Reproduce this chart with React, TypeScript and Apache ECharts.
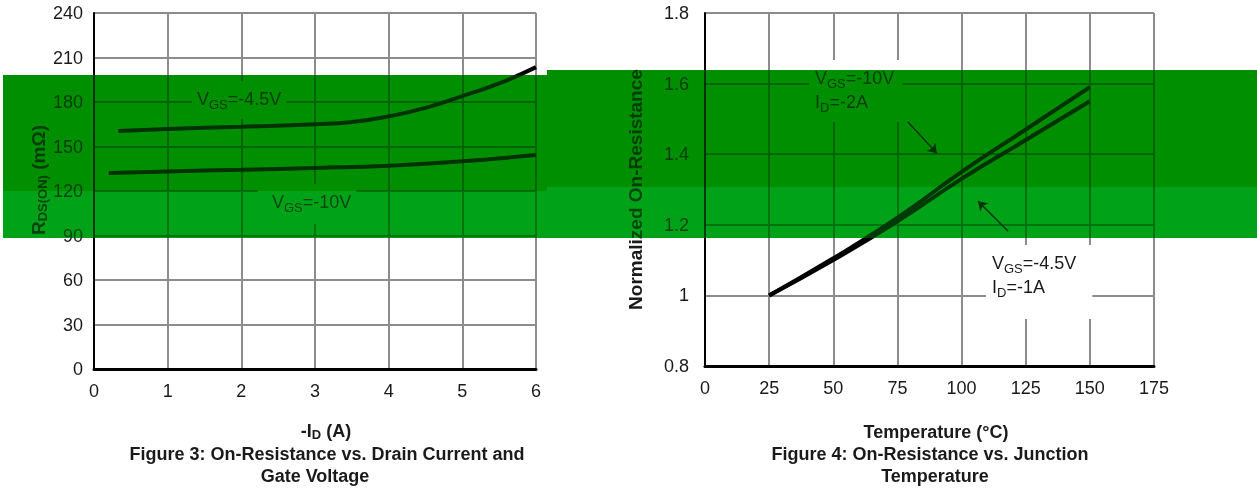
import React, { useEffect, useRef } from "react";
import * as echarts from "echarts";

// ---- Figure 3 data: RDS(ON) (mΩ) vs -ID (A)
const idTicks = [0, 1, 2, 3, 4, 5, 6];
const rdsTicks = [0, 30, 60, 90, 120, 150, 180, 210, 240];
const id45 = [0.33, 1, 2, 3, 3.5, 4, 4.5, 5, 5.5, 6];
const rds45 = [160.4, 161.8, 163.3, 165, 166.5, 170.3, 176, 184, 192.5, 203.5];
const id10 = [0.2, 1, 2, 3, 4, 5, 6];
const rds10 = [132.2, 133.2, 134.3, 135.5, 137, 140, 144.3];

// ---- Figure 4 data: normalized on-resistance vs temperature
const tempTicks = [0, 25, 50, 75, 100, 125, 150, 175];
const normTicks = [0.8, 1, 1.2, 1.4, 1.6, 1.8];
const tempC = [25, 50, 75, 100, 125, 150];
const norm10 = [1.0, 1.105, 1.22, 1.35, 1.47, 1.59];
const norm45 = [1.0, 1.1, 1.21, 1.33, 1.44, 1.55];
// annotation arrows [fromT, fromR, toT, toR]
const arrow10 = [79.1, 1.491, 90.4, 1.403];
const arrow45 = [118.1, 1.182, 106.4, 1.267];

const FONT = '"Liberation Sans", Arial, sans-serif';
const TXT = "#1a1a1a";
const GRID = "#8c8c8c";

const pairs = (xs: number[], ys: number[]) => xs.map((x, i) => [x, ys[i]]);

const richBase = (size: number, sub: number, bold: boolean, lh: number) => ({
  n: { fontFamily: FONT, fontSize: size, fontWeight: bold ? "bold" : "normal", color: TXT, fill: TXT, lineHeight: lh },
  s: { fontFamily: FONT, fontSize: sub, fontWeight: bold ? "bold" : "normal", color: TXT, fill: TXT, lineHeight: 14, verticalAlign: "bottom" },
});

const annot = (x: number, y: number, text: string, padding: number[]) => ({
  type: "text",
  x,
  y,
  z: 50,
  style: {
    text,
    rich: richBase(18, 13, false, 24),
    backgroundColor: "#ffffff",
    padding,
    fill: TXT,
  },
});

const caption = (x: number, y: number, text: string) => ({
  type: "text",
  x,
  y,
  z: 50,
  style: {
    text,
    fontFamily: FONT,
    fontSize: 18,
    fontWeight: "bold",
    fill: TXT,
    align: "center",
    textAlign: "center",
    verticalAlign: "middle",
    textVerticalAlign: "middle",
  },
});

const valueAxisBase = {
  type: "value",
  axisTick: { show: false },
  splitLine: { show: true, lineStyle: { color: GRID, width: 2 } },
  axisLabel: { fontFamily: FONT, fontSize: 18, color: TXT },
};

export default function App() {
  const ref = useRef<HTMLDivElement>(null);
  useEffect(() => {
    document.body.style.margin = "0";
    if (!ref.current) return;
    const chart = echarts.init(ref.current, undefined, { renderer: "svg" });
    const option: any = {
      animation: false,
      backgroundColor: "#ffffff",
      grid: [
        { left: 94, top: 13, width: 442, height: 356 },
        { left: 705, top: 13, width: 449, height: 353 },
      ],
      xAxis: [
        {
          ...valueAxisBase,
          gridIndex: 0,
          min: idTicks[0],
          max: idTicks[idTicks.length - 1],
          interval: idTicks[1] - idTicks[0],
          axisLine: { show: true, onZero: false, lineStyle: { color: "#000", width: 3 } },
          axisLabel: { ...valueAxisBase.axisLabel, margin: 13 },
          name: "{n|-I}{s|D}{n| (A)}",
          nameLocation: "middle",
          nameGap: 52,
          nameTextStyle: { padding: [0, 0, 0, 22], rich: richBase(18, 13, true, 20) },
        },
        {
          ...valueAxisBase,
          gridIndex: 1,
          min: tempTicks[0],
          max: tempTicks[tempTicks.length - 1],
          interval: tempTicks[1] - tempTicks[0],
          axisLine: { show: true, onZero: false, lineStyle: { color: "#000", width: 3 } },
          axisLabel: { ...valueAxisBase.axisLabel, margin: 13 },
          name: "Temperature (°C)",
          nameLocation: "middle",
          nameGap: 57,
          nameTextStyle: { fontFamily: FONT, fontSize: 18, fontWeight: "bold", color: TXT, padding: [0, 0, 0, 13] },
        },
      ],
      yAxis: [
        {
          ...valueAxisBase,
          gridIndex: 0,
          min: rdsTicks[0],
          max: rdsTicks[rdsTicks.length - 1],
          interval: rdsTicks[1] - rdsTicks[0],
          axisLine: { show: true, onZero: false, lineStyle: { color: "#000", width: 2 } },
          axisLabel: { ...valueAxisBase.axisLabel, margin: 11 },
          name: "{n|R}{s|DS(ON)}{n| (mΩ)}",
          nameLocation: "middle",
          nameRotate: 90,
          nameGap: 42,
          nameTextStyle: { padding: [0, 0, 0, 22], rich: richBase(19, 13, true, 22) },
        },
        {
          ...valueAxisBase,
          gridIndex: 1,
          min: normTicks[0],
          max: normTicks[normTicks.length - 1],
          interval: 0.2,
          axisLine: { show: true, onZero: false, lineStyle: { color: "#000", width: 2 } },
          axisLabel: { ...valueAxisBase.axisLabel, margin: 16 },
          name: "Normalized On-Resistance",
          nameLocation: "middle",
          nameRotate: 90,
          nameGap: 60,
          nameTextStyle: { fontFamily: FONT, fontSize: 19, fontWeight: "bold", color: TXT },
        },
      ],
      series: [
        {
          name: "VGS=-4.5V",
          type: "line",
          xAxisIndex: 0,
          yAxisIndex: 0,
          smooth: true,
          showSymbol: false,
          lineStyle: { color: "#000", width: 4 },
          data: pairs(id45, rds45),
        },
        {
          name: "VGS=-10V",
          type: "line",
          xAxisIndex: 0,
          yAxisIndex: 0,
          smooth: true,
          showSymbol: false,
          lineStyle: { color: "#000", width: 4 },
          data: pairs(id10, rds10),
        },
        {
          name: "VGS=-10V, ID=-2A",
          type: "line",
          xAxisIndex: 1,
          yAxisIndex: 1,
          smooth: true,
          showSymbol: false,
          lineStyle: { color: "#000", width: 4 },
          data: pairs(tempC, norm10),
          markLine: {
            silent: true,
            symbol: ["none", "arrow"],
            symbolSize: 9,
            label: { show: false },
            lineStyle: { color: "#000", width: 1.5, type: "solid" },
            data: [
              [{ coord: [arrow10[0], arrow10[1]] }, { coord: [arrow10[2], arrow10[3]] }],
              [{ coord: [arrow45[0], arrow45[1]] }, { coord: [arrow45[2], arrow45[3]] }],
            ],
          },
        },
        {
          name: "VGS=-4.5V, ID=-1A",
          type: "line",
          xAxisIndex: 1,
          yAxisIndex: 1,
          smooth: true,
          showSymbol: false,
          lineStyle: { color: "#000", width: 4 },
          data: pairs(tempC, norm45),
        },
      ],
      graphic: [
        annot(192, 81, "{n|V}{s|GS}{n|=-4.5V}", [6, 5, 8, 5]),
        annot(258, 184, "{n|V}{s|GS}{n|=-10V}", [6, 5, 10, 14]),
        annot(809, 60, "{n|V}{s|GS}{n|=-10V}\n{n|I}{s|D}{n|=-2A}", [6, 8, 8, 6]),
        annot(986, 245, "{n|V}{s|GS}{n|=-4.5V}\n{n|I}{s|D}{n|=-1A}", [6, 16, 20, 6]),
        caption(327, 454, "Figure 3: On-Resistance vs. Drain Current and"),
        caption(315, 476, "Gate Voltage"),
        caption(930, 454, "Figure 4: On-Resistance vs. Junction"),
        caption(935, 476, "Temperature"),
      ],
    };
    chart.setOption(option);
    return () => chart.dispose();
  }, []);

  const band = (left: number, top: number, w: number, h: number, color: string) => (
    <>
      <div
        style={{
          position: "absolute",
          left,
          top,
          width: w,
          height: h,
          background: color,
          mixBlendMode: "multiply",
          pointerEvents: "none",
        }}
      />
      <div
        style={{
          position: "absolute",
          left,
          top,
          width: w,
          height: h,
          background: color,
          opacity: 0.35,
          pointerEvents: "none",
        }}
      />
    </>
  );

  return (
    <div style={{ position: "relative", width: 1257, height: 488, overflow: "hidden", background: "#fff" }}>
      <div ref={ref} style={{ position: "absolute", left: 0, top: 0, width: 1257, height: 488 }} />
      {band(3, 75, 544, 116, "#009000")}
      {band(3, 191, 544, 47, "#00a418")}
      {band(547, 70, 710, 117, "#009000")}
      {band(547, 187, 710, 51, "#00a418")}
    </div>
  );
}
